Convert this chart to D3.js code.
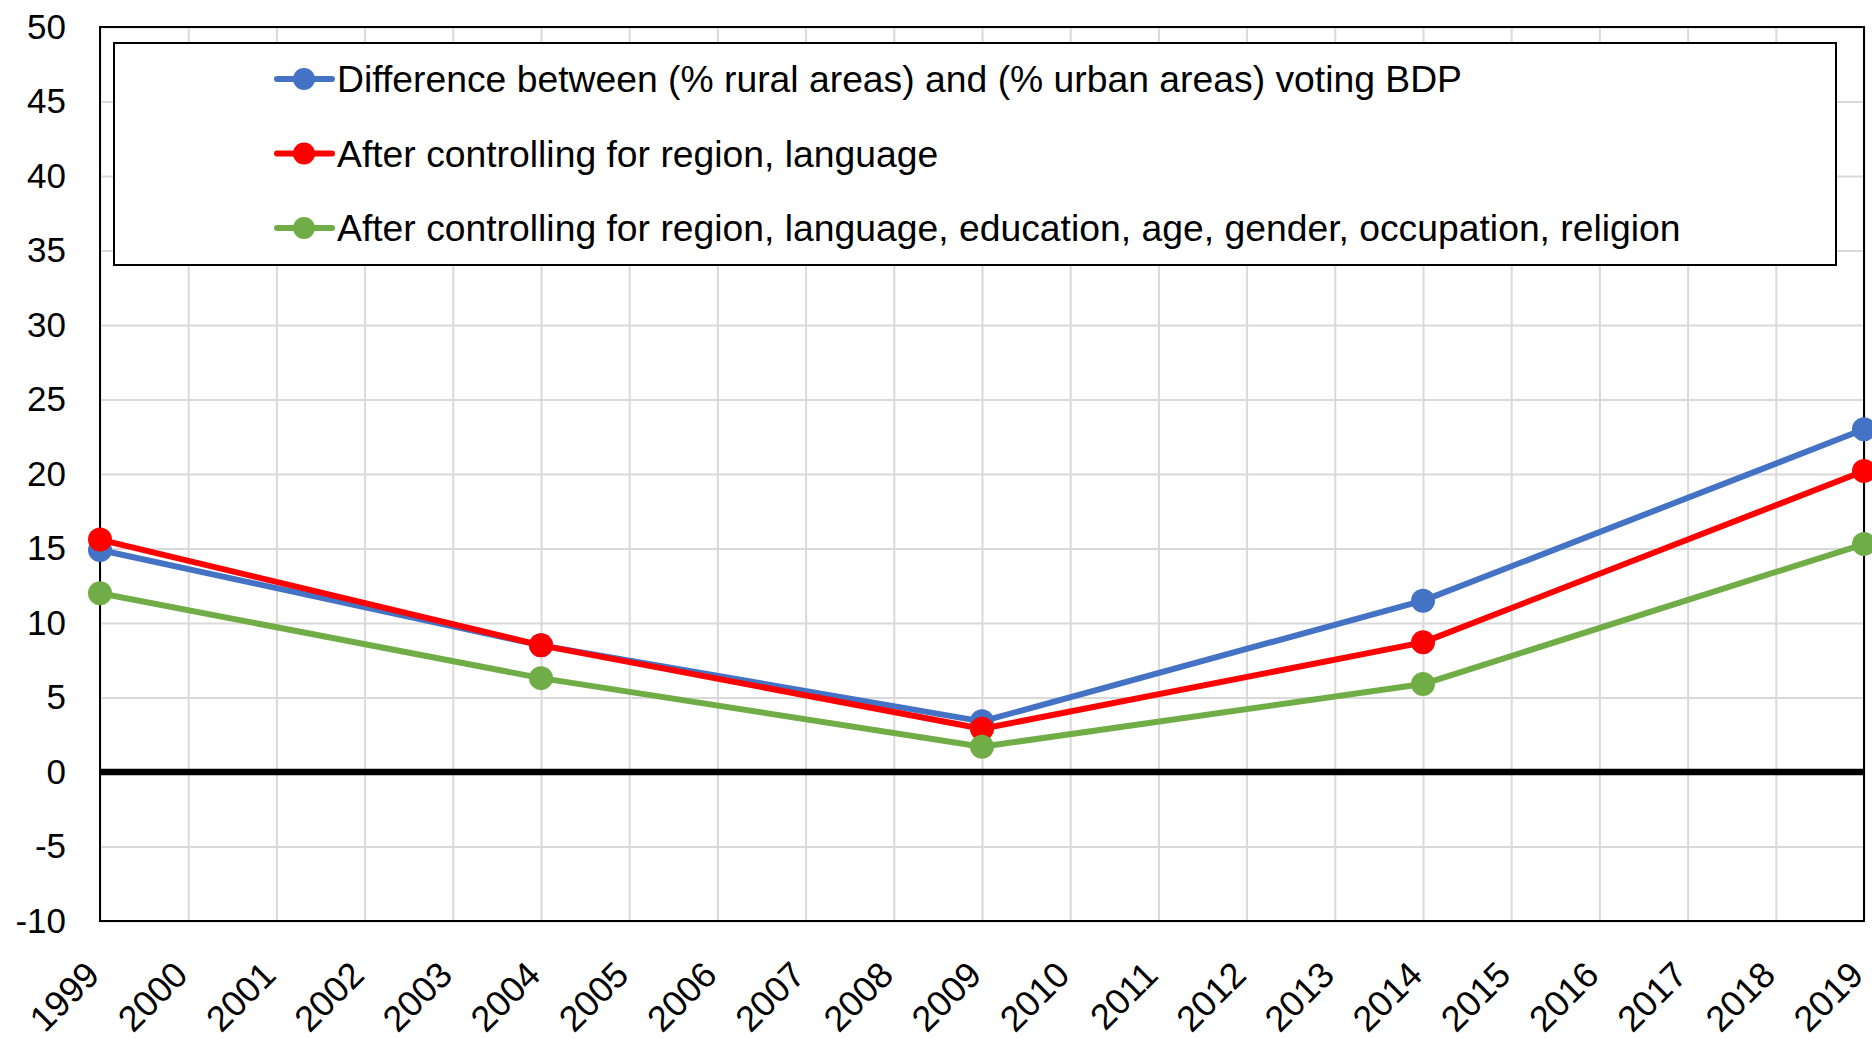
<!DOCTYPE html>
<html>
<head>
<meta charset="utf-8">
<script src="https://cdn.jsdelivr.net/npm/d3@7"></script>
<style>
  body { margin: 0; background: #fff; }
  svg { display: block; font-family: "Liberation Sans", Arial, sans-serif; }
</style>
</head>
<body>
<svg id="canvas" width="1872" height="1039"></svg>
<script>
let years = [1999, 2004, 2009, 2014, 2019]
let diffRuralUrban = [14.9, 8.5, 3.4, 11.5, 23.0]
let ctrlRegionLanguage = [15.6, 8.5, 2.9, 8.7, 20.2]
let ctrlAll = [12.0, 6.3, 1.7, 5.9, 15.3]

let seriesNames = [
    'Difference between (% rural areas) and (% urban areas) voting BDP',
    'After controlling for region, language',
    'After controlling for region, language, education, age, gender, occupation, religion'
]
let seriesColors = ['#4472C4', '#FF0000', '#70AD47']

let yTicks = [-10, -5, 0, 5, 10, 15, 20, 25, 30, 35, 40, 45, 50]
let xTicks = d3.range(1999, 2020)

let series = [diffRuralUrban, ctrlRegionLanguage, ctrlAll].map((vals, i) => ({
    name: seriesNames[i],
    color: seriesColors[i],
    points: vals.map((v, j) => ({ year: years[j], value: v }))
}))

let canvas = d3.select('#canvas')
let margin = { top: 27, right: 8, bottom: 118, left: 100 }
let width = 1872 - margin.left - margin.right
let height = 1039 - margin.top - margin.bottom

let xScale = d3.scaleLinear().domain([1999, 2019]).range([0, width])
let yScale = d3.scaleLinear().domain([-10, 50]).range([height, 0])

let g = canvas.append('g').attr('transform', `translate(${margin.left},${margin.top})`)

// gridlines
g.append('g')
    .call(d3.axisLeft(yScale).tickValues(yTicks).tickSize(-width).tickFormat(''))
    .call(ax => ax.select('.domain').remove())
    .selectAll('line').attr('stroke', '#d9d9d9').attr('stroke-width', 2)
g.append('g')
    .attr('transform', `translate(0,${height})`)
    .call(d3.axisBottom(xScale).tickValues(xTicks).tickSize(-height).tickFormat(''))
    .call(ax => ax.select('.domain').remove())
    .selectAll('line').attr('stroke', '#d9d9d9').attr('stroke-width', 2)

// plot frame
g.append('rect')
    .attr('width', width).attr('height', height)
    .attr('fill', 'none').attr('stroke', '#000').attr('stroke-width', 2)

// zero line
g.append('line')
    .attr('x1', 0).attr('x2', width)
    .attr('y1', yScale(0)).attr('y2', yScale(0))
    .attr('stroke', '#000').attr('stroke-width', 6.5)

// y axis labels (plain hyphen for negatives, like the original)
g.append('g')
    .call(d3.axisLeft(yScale).tickValues(yTicks).tickSize(0).tickPadding(34).tickFormat(d => String(d)))
    .call(ax => ax.select('.domain').remove())
    .selectAll('text')
    .attr('font-size', 35).attr('fill', '#000')
    .attr('font-family', '"Liberation Sans", Arial, sans-serif')

// x axis labels, rotated
g.append('g')
    .attr('transform', `translate(0,${height})`)
    .call(d3.axisBottom(xScale).tickValues(xTicks).tickFormat(d => String(d)).tickSize(0))
    .call(ax => ax.select('.domain').remove())
    .selectAll('text')
    .attr('font-size', 36).attr('fill', '#000')
    .attr('font-family', '"Liberation Sans", Arial, sans-serif')
    .attr('text-anchor', 'end')
    .attr('dy', 0).attr('y', 0)
    .attr('transform', 'translate(1,56) rotate(-45)')

// lines and markers
let line = d3.line().x(d => xScale(d.year)).y(d => yScale(d.value))

let groups = g.selectAll('.series')
    .data(series)
    .enter()
    .append('g')
    .attr('class', 'series')

groups.append('path')
    .attr('d', d => line(d.points))
    .attr('fill', 'none')
    .attr('stroke', d => d.color)
    .attr('stroke-width', 6)
    .attr('stroke-linejoin', 'round')

groups.selectAll('circle')
    .data(d => d.points.map(p => ({ ...p, color: d.color })))
    .enter()
    .append('circle')
    .attr('cx', d => xScale(d.year))
    .attr('cy', d => yScale(d.value))
    .attr('r', 12)
    .attr('fill', d => d.color)

// legend
let legend = canvas.append('g').attr('transform', 'translate(114,43)')
legend.append('rect')
    .attr('width', 1722).attr('height', 222)
    .attr('fill', '#fff').attr('stroke', '#000').attr('stroke-width', 2)

let items = legend.selectAll('.item')
    .data(series)
    .enter()
    .append('g')
    .attr('class', 'item')
    .attr('transform', (d, i) => `translate(0,${36 + i * 74.5})`)

items.append('line')
    .attr('x1', 163).attr('x2', 218)
    .attr('stroke', d => d.color).attr('stroke-width', 6)
    .attr('stroke-linecap', 'round')
items.append('circle')
    .attr('cx', 190).attr('r', 11)
    .attr('fill', d => d.color)
items.append('text')
    .attr('x', 223).attr('dy', '0.358em')
    .attr('font-size', 37.3).attr('fill', '#000')
    .text(d => d.name)
</script>
</body>
</html>
